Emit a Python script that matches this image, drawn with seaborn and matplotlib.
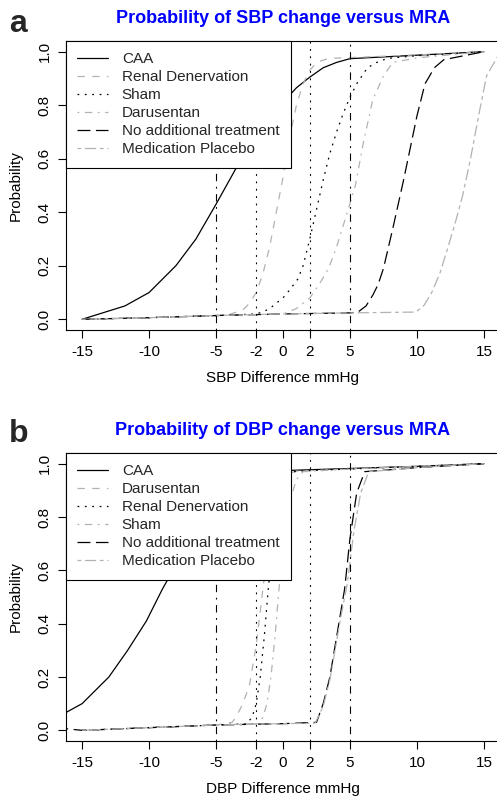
import pandas as pd
import seaborn as sns
import matplotlib.pyplot as plt
from matplotlib.lines import Line2D

# ---- data (x = mmHg difference, p = probability) ----
sbp_labels = ["CAA", "Renal Denervation", "Sham", "Darusentan",
              "No additional treatment", "Medication Placebo"]
dbp_labels = ["CAA", "Darusentan", "Renal Denervation", "Sham",
              "No additional treatment", "Medication Placebo"]

sbp_caa_x = [-15, -11.8, -10, -8, -6.5, -5, -4, -3, -2, -1, 0, 1, 2, 3, 4, 5, 10, 15]
sbp_caa_p = [0.0, 0.05, 0.10, 0.20, 0.30, 0.43, 0.52, 0.61, 0.69, 0.76, 0.81, 0.865,
             0.905, 0.94, 0.96, 0.974, 0.987, 1.0]
sbp_renal_x = [-15, -10, -5, -4, -3, -2.5, -2, -1.5, -1, -0.5, 0, 0.5, 1, 1.5, 2, 2.5,
               3.4, 5, 10, 15]
sbp_renal_p = [0.0, 0.006, 0.014, 0.018, 0.035, 0.06, 0.10, 0.17, 0.27, 0.40, 0.53,
               0.68, 0.80, 0.88, 0.93, 0.96, 0.975, 0.978, 0.988, 1.0]
sbp_sham_x = [-15, -10, -5, -2, -1.5, -1, 0, 0.5, 1.1, 1.5, 2, 2.5, 3, 3.5, 4, 4.5, 5,
              5.5, 6.3, 7, 7.8, 10, 15]
sbp_sham_p = [0.0, 0.006, 0.014, 0.02, 0.028, 0.04, 0.08, 0.11, 0.15, 0.2, 0.30, 0.41,
              0.52, 0.62, 0.70, 0.77, 0.83, 0.88, 0.94, 0.96, 0.975, 0.985, 1.0]
sbp_daru_x = [-15, -10, -5, 0, 1, 2, 2.7, 3.4, 4, 4.8, 5.4, 6, 6.7, 7.5, 8.2, 10, 15]
sbp_daru_p = [0.0, 0.006, 0.014, 0.02, 0.04, 0.08, 0.13, 0.19, 0.27, 0.40, 0.50, 0.66,
              0.82, 0.91, 0.96, 0.977, 1.0]
sbp_none_x = [-15, -10, -5, 0, 5, 5.6, 6.2, 6.7, 7.1, 7.5, 8.2, 9, 9.5, 10, 10.6, 11.3,
              12, 15]
sbp_none_p = [0.0, 0.006, 0.014, 0.02, 0.024, 0.027, 0.05, 0.09, 0.13, 0.19, 0.34, 0.52,
              0.64, 0.76, 0.88, 0.94, 0.97, 1.0]
sbp_plac_x = [-15, -10, -5, 0, 5, 9.9, 10.5, 11.1, 11.7, 12.2, 12.8, 13.4, 14, 14.6,
              15.2, 16]
sbp_plac_p = [0.0, 0.006, 0.014, 0.02, 0.024, 0.027, 0.05, 0.10, 0.17, 0.25, 0.35, 0.46,
              0.60, 0.76, 0.91, 0.98]

dbp_caa_x = [-17, -15, -13, -11.6, -10.2, -9, -8, -7, -6, -5, -4, -3, -2, -1, 0, 5, 10, 15]
dbp_caa_p = [0.045, 0.10, 0.20, 0.30, 0.41, 0.53, 0.62, 0.71, 0.79, 0.85, 0.90, 0.935,
             0.955, 0.968, 0.974, 0.982, 0.99, 1.0]
dbp_daru_x = [-15, -10, -5, -3.8, -3.5, -3, -2.5, -2, -1.5, -1, -0.5, 0.2, 1, 5, 10, 15]
dbp_daru_p = [0.0, 0.01, 0.02, 0.03, 0.05, 0.10, 0.17, 0.32, 0.53, 0.74, 0.89, 0.96,
              0.972, 0.98, 0.99, 1.0]
dbp_renal_x = [-15, -10, -5, -2.7, -2.3, -2, -1.7, -1.4, -1.1, -0.7, -0.3, 0.3, 1, 5, 10, 15]
dbp_renal_p = [0.0, 0.01, 0.02, 0.025, 0.05, 0.10, 0.20, 0.35, 0.53, 0.74, 0.88, 0.96,
               0.972, 0.98, 0.99, 1.0]
dbp_sham_x = [-15, -10, -5, -1.8, -1.5, -1.2, -0.9, -0.6, -0.3, 0.1, 0.5, 1, 1.5, 5, 10, 15]
dbp_sham_p = [0.0, 0.01, 0.02, 0.025, 0.05, 0.10, 0.20, 0.35, 0.53, 0.72, 0.86, 0.94,
              0.97, 0.98, 0.99, 1.0]
dbp_none_x = [-17, -15, -10, -5, 0, 2.5, 3, 3.5, 4, 4.6, 5, 5.5, 6.1, 10, 15]
dbp_none_p = [0.01, 0.0, 0.01, 0.02, 0.025, 0.03, 0.10, 0.20, 0.35, 0.53, 0.72, 0.89,
              0.97, 0.985, 1.0]
dbp_plac_x = [-15, -10, -5, 0, 2.4, 3, 3.5, 4.3, 4.8, 5.3, 5.8, 6.4, 10, 15]
dbp_plac_p = [0.0, 0.01, 0.02, 0.025, 0.027, 0.09, 0.19, 0.42, 0.55, 0.75, 0.89, 0.97,
              0.985, 1.0]

x_ticks = [-15, -10, -5, -2, 0, 2, 5, 10, 15]
y_ticks = [0.0, 0.2, 0.4, 0.6, 0.8, 1.0]
ref_lines = [-5, -2, 2, 5]

# R style line types 1..6, colours alternate black / gray
GRAY = "#b2b2b2"
lty = ["", (5.3, 5.3), (1.3, 4.0), (1.3, 4.0, 5.3, 4.0), (9.3, 4.0), (2.7, 2.7, 8.0, 2.7)]
cols = ["black", GRAY, "black", GRAY, "black", GRAY]


def long_frame(labels, curves):
    parts = []
    for lab, (xs, ps) in zip(labels, curves):
        parts.append(pd.DataFrame({"x": xs, "p": ps, "treatment": lab}))
    return pd.concat(parts, ignore_index=True)


sbp_df = long_frame(sbp_labels, [(sbp_caa_x, sbp_caa_p), (sbp_renal_x, sbp_renal_p),
                                 (sbp_sham_x, sbp_sham_p), (sbp_daru_x, sbp_daru_p),
                                 (sbp_none_x, sbp_none_p), (sbp_plac_x, sbp_plac_p)])
dbp_df = long_frame(dbp_labels, [(dbp_caa_x, dbp_caa_p), (dbp_daru_x, dbp_daru_p),
                                 (dbp_renal_x, dbp_renal_p), (dbp_sham_x, dbp_sham_p),
                                 (dbp_none_x, dbp_none_p), (dbp_plac_x, dbp_plac_p)])

sns.set_theme(style="white")
plt.rcParams['font.family'] = ['Liberation Sans', 'DejaVu Sans']
plt.rcParams['lines.scale_dashes'] = False
plt.rcParams['axes.edgecolor'] = 'black'
plt.rcParams['axes.linewidth'] = 0.8

fig = plt.figure(figsize=(4.97, 7.98), dpi=100)
ax_a = fig.add_axes([66 / 497, 468 / 798, 434 / 497, 289 / 798])
ax_b = fig.add_axes([66 / 497, 57 / 798, 434 / 497, 288 / 798])


def draw_panel(ax, df, labels, title, xlabel):
    palette = dict(zip(labels, cols))
    dashes = dict(zip(labels, lty))
    sns.lineplot(data=df, x="x", y="p", hue="treatment", style="treatment",
                 palette=palette, dashes=dashes, estimator=None, sort=False,
                 legend=False, lw=0.9, ax=ax)
    for v in ref_lines:
        ls = (0, (1.3, 4.0)) if abs(v) == 2 else (0, (1.3, 4.0, 5.3, 4.0))
        ax.axvline(v, color="black", lw=0.8, linestyle=ls)
    ax.set_xlim(-16.2, 16.2)
    ax.set_ylim(-0.04, 1.04)
    ax.set_xticks(x_ticks)
    ax.set_xticklabels([str(t) for t in x_ticks])
    ax.set_yticks(y_ticks)
    ax.set_yticklabels([f"{t:.1f}" for t in y_ticks], rotation=90, va="center")
    ax.tick_params(axis="both", direction="out", length=5.5, width=0.8,
                   color="black", labelsize=11, labelcolor="black", pad=5,
                   bottom=True, left=True)
    ax.set_xlabel(xlabel, fontsize=11, color="black")
    ax.set_ylabel("Probability", fontsize=11, color="black")
    ax.xaxis.set_label_coords(0.5, -0.142)
    ax.yaxis.set_label_coords(-0.10, 0.5)
    ax.set_title(title, fontsize=13, fontweight="bold", color="#0000ff", pad=13)
    handles = [Line2D([], [], color=c, lw=0.9, linestyle="-" if d == "" else (0, d))
               for c, d in zip(cols, lty)]
    leg = ax.legend(handles, labels, loc="upper left", borderaxespad=0,
                    fontsize=11, frameon=True, fancybox=False, framealpha=1,
                    edgecolor="black", handlelength=2.0, handletextpad=0.9,
                    labelspacing=0.26, borderpad=0.75)
    leg.get_frame().set_linewidth(0.8)


draw_panel(ax_a, sbp_df, sbp_labels, "Probability of SBP change versus MRA",
           "SBP Difference mmHg")
draw_panel(ax_b, dbp_df, dbp_labels, "Probability of DBP change versus MRA",
           "DBP Difference mmHg")

fig.text(9 / 497, 1 - 32 / 798, "a", fontsize=23, fontweight="bold", va="baseline")
fig.text(9 / 497, 1 - 442 / 798, "b", fontsize=23, fontweight="bold", va="baseline")

plt.savefig("out.png", dpi=100)
